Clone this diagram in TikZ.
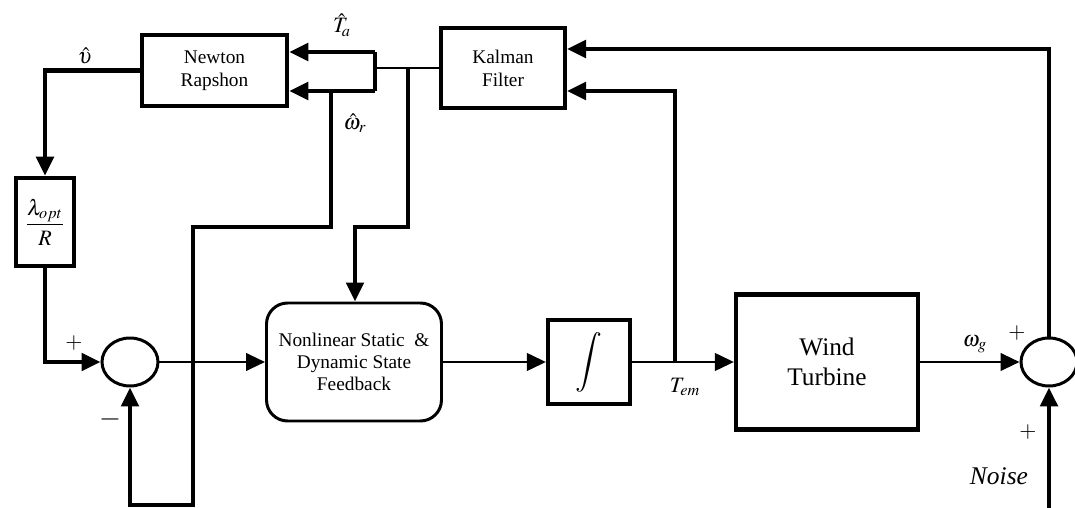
\documentclass[tikz,border=0pt]{standalone}
\usepackage{amsmath}
\usepackage{mathptmx}
\usepackage[no-math]{fontspec}
\setmainfont{Liberation Serif}
\usetikzlibrary{
  arrows.meta,
  positioning,
  shapes.geometric,
  calc,
}

\begin{document}
\begin{tikzpicture}[
  >={Triangle[length=3.8mm,width=3.5mm]},
  blk/.style   ={draw, line width=2.6pt, align=center, inner sep=1pt,
                 font=\fontsize{11}{13}\selectfont},
  nlblk/.style ={draw, line width=1.7pt, rounded corners=12pt, align=center,
                 minimum width=3.5cm, minimum height=2.36cm,
                 font=\fontsize{11}{12.5}\selectfont},
  sumc/.style  ={draw, ellipse, line width=1.7pt, inner sep=0pt,
                 minimum width=1.12cm, minimum height=0.96cm},
  sig/.style   ={->, line width=2.3pt},
  sigthin/.style={->, line width=1.5pt},
  lbl/.style   ={font=\fontsize{12.5}{12.5}\selectfont, inner sep=0pt},
]
  \useasboundingbox (0,0) rectangle (21.5,10.16);

  % Blocks, placed at fixed coordinates
  \node[blk, minimum width=2.9cm, minimum height=1.42cm]  (nr)  at (4.29,8.75) {Newton\\Rapshon};
  \node[blk, line width=2.4pt, minimum width=2.48cm, minimum height=1.6cm] (kf) at (10.06,8.80) {Kalman\\Filter};
  \node[blk, minimum width=1.16cm, minimum height=1.76cm,
        font=\fontsize{12.5}{13}\selectfont] (lam) at (0.90,5.72) {$\dfrac{\lambda_{opt}}{R}$};
  \node[sumc] (s1) at (2.60,2.92) {};
  \node[nlblk] (nl) at (7.08,2.92) {Nonlinear Static~~\&\\Dynamic State\\Feedback};
  \node[blk, line width=2.4pt, minimum width=1.64cm, minimum height=1.68cm] (itg) at (11.78,2.92)
    {\fontsize{17}{17}\selectfont$\displaystyle\int$};
  \node[blk, line width=2.4pt, minimum width=3.64cm, minimum height=2.70cm,
        font=\fontsize{14.4}{17}\selectfont] (wt) at (16.54,2.92) {Wind\\Turbine};
  \node[sumc] (s2) at (20.98,2.92) {};

  % Bend points of the feedback wires
  \coordinate (jn)  at (7.50,8.80);
  \coordinate (jta) at (7.50,9.12);
  \coordinate (jwr) at (7.50,8.34);
  \coordinate (bw)  at (6.62,8.34);
  \coordinate (bw1) at (6.62,5.62);
  \coordinate (bw2) at (3.86,5.62);
  \coordinate (bw3) at (3.86,0.06);
  \coordinate (bk)  at (8.16,8.80);
  \coordinate (bk1) at (8.16,5.62);
  \coordinate (bk2) at (7.10,5.62);
  \coordinate (tb)  at (13.50,2.92);
  \coordinate (nz)  at (20.98,0);

  % Estimator outputs
  \draw[line width=1.6pt] (kf.west) -- (jn);
  \draw[line width=2.3pt] (jta) -- (jwr);
  \draw[sig] (jta) -- (jta -| nr.east);
  \draw[sig] (jwr) -- (jwr -| nr.east);
  \draw[sig] (bw) -- (bw1) -- (bw2) -- (bw3) -| (s1.south);
  \draw[sig] (bk) -- (bk1) -- (bk2) -- (bk2 |- nl.north);
  \draw[sig] (nr.west) -| (lam.north);
  \draw[sig] (lam.south) |- (s1.west);

  % Forward path
  \draw[sigthin] (s1.east)  -- (nl.west);
  \draw[sigthin] (nl.east)  -- (itg.west);
  \draw[sigthin] (itg.east) -- (wt.west);
  \draw[sigthin] (wt.east)  -- (s2.west);

  % Measurements back to the filter
  \draw[sig] (tb) |- ([yshift=-0.46cm]kf.east);
  \draw[sig] (s2.north) |- ([yshift=0.38cm]kf.east);
  \draw[sig] (nz) -- (s2.south);

  % Signal labels
  \node[lbl] (lv)  at (1.70,9.04)  {$\hat{\upsilon}$};
  \node[lbl] (lta) at (6.84,9.66)  {$\hat{T}_{\!a}$};
  \node[lbl] (lwr) at (7.10,7.70)  {$\hat{\omega}_{r}$};
  \node[lbl] (p1)  at (1.48,3.30)  {$+$};
  \node[lbl, font=\fontsize{16}{16}\selectfont] (m1) at (2.20,1.78) {$-$};
  \node[lbl] (lte) at (13.70,2.42) {$T_{em}$};
  \node[lbl] (lwg) at (19.50,3.28) {$\omega_g$};
  \node[lbl] (p2)  at (20.34,3.50) {$+$};
  \node[lbl] (p3)  at (20.56,1.52) {$+$};
  \node[lbl, font=\fontsize{14.5}{15}\selectfont] (lnz) at (19.98,0.64) {\textit{Noise}};
\end{tikzpicture}
\end{document}
